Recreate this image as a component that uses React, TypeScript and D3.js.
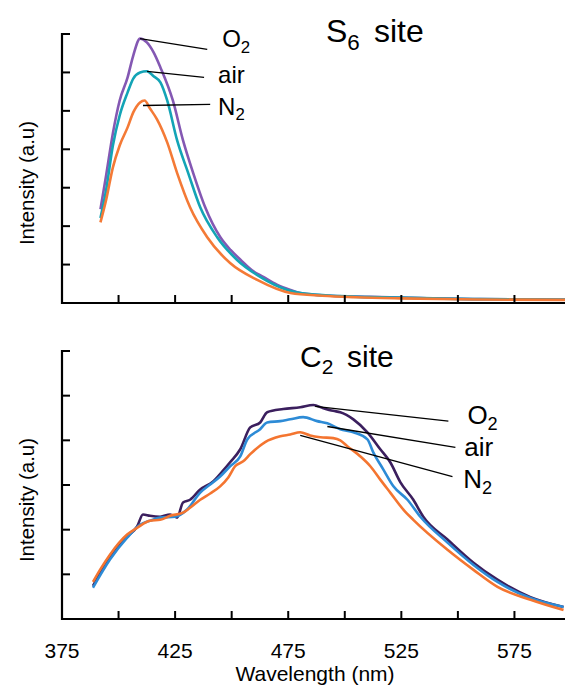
import React from "react";
import * as d3 from "d3";

// ---------- Data ----------
const xTicks = [375, 400, 425, 450, 475, 500, 525, 550, 575];
const xTickLabels = [375, 425, 475, 525, 575];

// Top panel (S6 site)
const s6O2Wl = [392, 394.5, 397.5, 400.5, 404, 406.5, 409.5, 412.5, 415.5, 418.5, 424, 428.5, 433, 438.3, 445, 449.5, 454, 459, 464, 470, 476, 480.3, 493.5, 511, 533.5, 560, 598];
const s6O2Val = [24.4, 33.2, 44.2, 52.7, 58.7, 64.4, 68.8, 67.8, 65.2, 61.3, 52.7, 42.3, 33.8, 24.9, 17.1, 13.8, 11.2, 8.5, 6.8, 4.8, 3.4, 2.6, 1.9, 1.6, 1.3, 1.0, 0.9];
const s6AirWl = [392, 394.5, 397.5, 400.5, 404, 406.5, 409.5, 412.5, 415.5, 418.5, 421.5, 425.9, 430.8, 436.1, 443.6, 452.4, 462.6, 474.6, 484.5, 498, 524.5, 560, 598];
const s6AirVal = [22.1, 29.4, 41.0, 48.8, 54.8, 58.4, 60.0, 60.3, 59.0, 57.4, 52.7, 42.3, 33.8, 24.9, 17.1, 11.2, 6.8, 3.4, 2.3, 1.8, 1.4, 1.0, 0.9];
const s6N2Wl = [392, 394.5, 397.5, 400.5, 404, 406.5, 409.5, 411.5, 413.9, 417, 421.5, 425.9, 431.6, 439.2, 449.3, 461.3, 476, 490, 505, 524.5, 560, 598];
const s6N2Val = [21.0, 26.8, 35.3, 41.0, 45.7, 49.6, 52.2, 52.7, 50.6, 47.8, 41.8, 33.8, 24.9, 17.1, 10.4, 6.0, 2.6, 1.9, 1.5, 1.2, 0.9, 0.8];

// Bottom panel (C2 site)
const c2O2Wl = [388.7, 396.2, 403.8, 408.2, 410.8, 413.9, 418.4, 422.8, 425.9, 428.5, 431.6, 436.1, 441.8, 445.8, 449.3, 453.8, 458.2, 462.6, 465.7, 472.8, 480.3, 486.1, 490.5, 494.9, 498, 503.8, 510, 515.7, 520.1, 524.6, 530.3, 534.7, 545.4, 556.9, 567.5, 582.1, 596.7];
const c2O2Val = [7.4, 13.9, 18.4, 20.7, 23.4, 23.1, 22.9, 23.4, 22.7, 26.1, 26.7, 29.0, 30.8, 33.0, 35.1, 38.0, 42.9, 44.0, 46.3, 47.0, 47.4, 47.9, 47.2, 46.6, 46.3, 44.7, 41.8, 38.0, 35.1, 30.6, 26.7, 22.9, 17.8, 12.6, 8.8, 4.9, 2.7];
const c2AirWl = [388.7, 396.2, 403.8, 409.5, 413.9, 418.4, 425, 430.3, 436.1, 440.5, 444.9, 449.3, 453.8, 456.9, 462.6, 465.7, 471.5, 475.9, 481.6, 487.8, 492.3, 498, 503.8, 510, 512.6, 517, 521.5, 527.7, 533.4, 545.4, 556.9, 567.5, 582.1, 596.7];
const c2AirVal = [7.0, 13.3, 18.2, 21.1, 22.0, 22.7, 22.9, 24.5, 28.3, 30.1, 31.9, 34.2, 36.4, 40.2, 42.5, 44.0, 44.3, 44.7, 45.2, 44.3, 43.8, 42.5, 41.8, 40.2, 37.3, 33.5, 29.7, 26.7, 22.9, 17.1, 12.1, 8.3, 4.7, 2.7];
const c2N2Wl = [388.7, 391.8, 396.2, 403.8, 408.2, 413.9, 418.4, 422.8, 428.5, 431.6, 436.1, 440.5, 444.9, 448.5, 451.5, 455.1, 458.2, 464.8, 471.5, 475.9, 480.3, 484.7, 489.2, 494.9, 498, 501.1, 506.9, 511.3, 515.7, 520.1, 525.9, 530.3, 545.4, 556.9, 567.5, 582.1, 596.7];
const c2N2Val = [8.3, 11.0, 14.4, 18.9, 20.4, 22.0, 22.2, 23.1, 23.8, 24.9, 26.7, 28.1, 29.7, 31.7, 34.2, 35.3, 36.9, 39.6, 40.9, 41.3, 41.8, 41.1, 40.7, 40.5, 40.0, 38.7, 36.4, 34.2, 31.2, 28.3, 24.5, 22.2, 15.5, 11.0, 7.2, 4.3, 2.0];

const topYTicks = [0, 10, 20, 30, 40, 50, 60, 70];
const botYTicks = [0, 10, 20, 30, 40, 50, 60];

// ---------- Layout ----------
const W = 565;
const H = 689;
const FONT = "Liberation Sans, Arial, sans-serif";

const x = d3.scaleLinear().domain([375, 600]).range([62, 571]);
const yTop = d3.scaleLinear().domain([0, 70]).range([303, 34]);
const yBot = d3.scaleLinear().domain([0, 60]).range([619, 351]);

type Series = { wl: number[]; val: number[]; color: string };

function Panel({ y, series, yTicks }: { y: d3.ScaleLinear<number, number>; series: Series[]; yTicks: number[] }) {
  const line = (s: Series) =>
    d3.line<number>().x((_, i) => x(s.wl[i])).y((_, i) => y(s.val[i])).curve(d3.curveMonotoneX)(s.wl) || "";
  const y0 = y(0);
  const yTop0 = y(yTicks[yTicks.length - 1]);
  return (
    <g>
      {series.map((s, i) => (
        <path key={i} d={line(s)} fill="none" stroke={s.color} strokeWidth={2.6} strokeLinejoin="round" />
      ))}
      <line x1={x(375)} x2={x(375)} y1={yTop0 - 1} y2={y0 + 1} stroke="#000" strokeWidth={2.2} />
      <line x1={x(375) - 1} x2={W} y1={y0} y2={y0} stroke="#000" strokeWidth={2.2} />
      {yTicks.slice(1).map((t) => (
        <line key={t} x1={x(375)} x2={x(375) + 8} y1={y(t)} y2={y(t)} stroke="#000" strokeWidth={2} />
      ))}
      {xTicks.slice(1).map((t) => (
        <line key={t} x1={x(t)} x2={x(t)} y1={y0} y2={y0 - 8} stroke="#000" strokeWidth={2} />
      ))}
    </g>
  );
}

function Label({ px, py, main, sub, size }: { px: number; py: number; main: string; sub?: string; size: number }) {
  return (
    <text x={px} y={py} fontFamily={FONT} fontSize={size} fill="#000">
      {main}
      {sub ? (
        <tspan fontSize={size * 0.7} dy={size * 0.24}>
          {sub}
        </tspan>
      ) : null}
    </text>
  );
}

export default function App() {
  const topSeries: Series[] = [
    { wl: s6O2Wl, val: s6O2Val, color: "#8458b3" },
    { wl: s6AirWl, val: s6AirVal, color: "#13a4b6" },
    { wl: s6N2Wl, val: s6N2Val, color: "#f47a36" },
  ];
  const botSeries: Series[] = [
    { wl: c2O2Wl, val: c2O2Val, color: "#3b1f5e" },
    { wl: c2AirWl, val: c2AirVal, color: "#2d8bd6" },
    { wl: c2N2Wl, val: c2N2Val, color: "#f47530" },
  ];
  return (
    <svg width={W} height={H} style={{ position: "absolute", left: 0, top: 0, background: "#fff" }}>
      <rect width={W} height={H} fill="#fff" />
      <Panel y={yTop} series={topSeries} yTicks={topYTicks} />
      <Panel y={yBot} series={botSeries} yTicks={botYTicks} />

      {/* leader lines top */}
      <g stroke="#000" strokeWidth={1.3}>
        <line x1={x(409.5)} y1={yTop(68.8)} x2={x(439.2)} y2={yTop(66.0)} />
        <line x1={x(412.6)} y1={yTop(60.3)} x2={x(437.8)} y2={yTop(58.7)} />
        <line x1={x(410.8)} y1={yTop(51.4)} x2={x(440.5)} y2={yTop(51.7)} />
      </g>
      <Label px={x(445.8)} py={yTop(66.6)} main="O" sub="2" size={24} />
      <Label px={x(444.0)} py={yTop(57.2)} main="air" size={24} />
      <Label px={x(444.0)} py={yTop(49.0)} main="N" sub="2" size={24} />

      {/* leader lines bottom */}
      <g stroke="#000" strokeWidth={1.3}>
        <line x1={x(486.9)} y1={yBot(47.6)} x2={x(545.8)} y2={yBot(44.3)} />
        <line x1={x(492.3)} y1={yBot(43.1)} x2={x(548.9)} y2={yBot(38.4)} />
        <line x1={x(480.3)} y1={yBot(41.1)} x2={x(547.6)} y2={yBot(31.9)} />
      </g>
      <Label px={x(554.2)} py={yBot(43.6)} main="O" sub="2" size={26} />
      <Label px={x(552.8)} py={yBot(36.6)} main="air" size={26} />
      <Label px={x(552.4)} py={yBot(29.4)} main="N" sub="2" size={26} />

      {/* titles */}
      <Label px={326} py={42} main="S" sub="6" size={32} />
      <text x={374} y={42} fontFamily={FONT} fontSize={32}>site</text>
      <Label px={300} py={367} main="C" sub="2" size={30} />
      <text x={347} y={367} fontFamily={FONT} fontSize={30}>site</text>

      {/* y labels */}
      <text transform={`translate(34,${183}) rotate(-90)`} textAnchor="middle" fontFamily={FONT} fontSize={20.5}>
        Intensity (a.u)
      </text>
      <text transform={`translate(34,${500}) rotate(-90)`} textAnchor="middle" fontFamily={FONT} fontSize={20.5}>
        Intensity (a.u)
      </text>

      {/* x tick labels */}
      {xTickLabels.map((t) => (
        <text key={t} x={x(t)} y={658} textAnchor="middle" fontFamily={FONT} fontSize={21}>
          {t}
        </text>
      ))}
      <text x={315} y={681} textAnchor="middle" fontFamily={FONT} fontSize={21}>
        Wavelength (nm)
      </text>
    </svg>
  );
}
